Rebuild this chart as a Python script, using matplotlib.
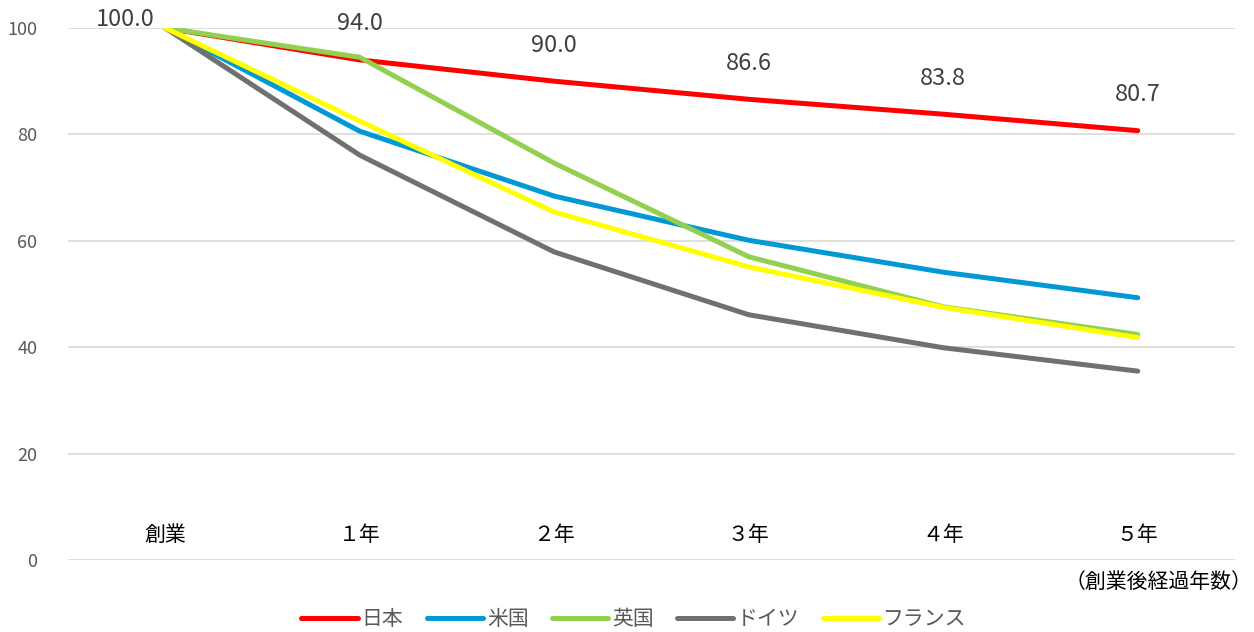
import matplotlib.pyplot as plt

plt.rcParams['font.family'] = ['Noto Sans CJK JP', 'DejaVu Sans']

categories = ['創業', '１年', '２年', '３年', '４年', '５年']
japan = [100.0, 94.0, 90.0, 86.6, 83.8, 80.7]
usa = [100.0, 80.6, 68.4, 60.1, 54.1, 49.3]
uk = [100.0, 94.5, 74.6, 57.0, 47.6, 42.4]
germany = [100.0, 76.1, 57.9, 46.1, 39.9, 35.5]
france = [100.0, 82.5, 65.4, 55.1, 47.5, 41.8]

series = [
    ('日本', japan, '#FF0000'),
    ('米国', usa, '#0099D4'),
    ('英国', uk, '#92D050'),
    ('ドイツ', germany, '#707070'),
    ('フランス', france, '#FFFF00'),
]

fig = plt.figure(figsize=(12.54, 6.32), dpi=100)
ax = fig.add_axes([68 / 1254, 72 / 632, 1167 / 1254, 532 / 632])

x = list(range(len(categories)))
for name, vals, col in series:
    ax.plot(x, vals, color=col, linewidth=3.6, label=name, solid_capstyle='round')

# data labels for Japan
for i, v in enumerate(japan):
    if i == 0:
        ax.annotate(f'{v:.1f}', (i, v), xytext=(-40, 8), textcoords='offset pixels',
                    ha='center', va='center', fontsize=17, color='#404040')
    else:
        ax.annotate(f'{v:.1f}', (i, v), xytext=(0, 36), textcoords='offset pixels',
                    ha='center', va='center', fontsize=17, color='#404040')

ax.set_xlim(-0.5, 5.5)
ax.set_ylim(0, 100)
ax.set_yticks([0, 20, 40, 60, 80, 100])
ax.set_xticks([])
ax.grid(axis='y', color='#D9D9D9', linewidth=1.2)
ax.set_axisbelow(True)
for s in ax.spines.values():
    s.set_visible(False)
ax.tick_params(axis='y', length=0, pad=22, labelsize=13, labelcolor='#595959')

for i, c in enumerate(categories):
    ax.text(i, 4.7, c, ha='center', va='center', fontsize=15, color='#000000')

fig.text(1252 / 1254, 1 - 582 / 632, '（創業後経過年数）', ha='right', va='center',
         fontsize=15, color='#000000')

fig.legend(loc='center', bbox_to_anchor=(634 / 1254, 1 - 619 / 632), ncol=5,
           frameon=False, fontsize=15, handlelength=2.7, handletextpad=0.2,
           columnspacing=1.1, labelcolor='#595959')

fig.savefig('out.png', dpi=100)
